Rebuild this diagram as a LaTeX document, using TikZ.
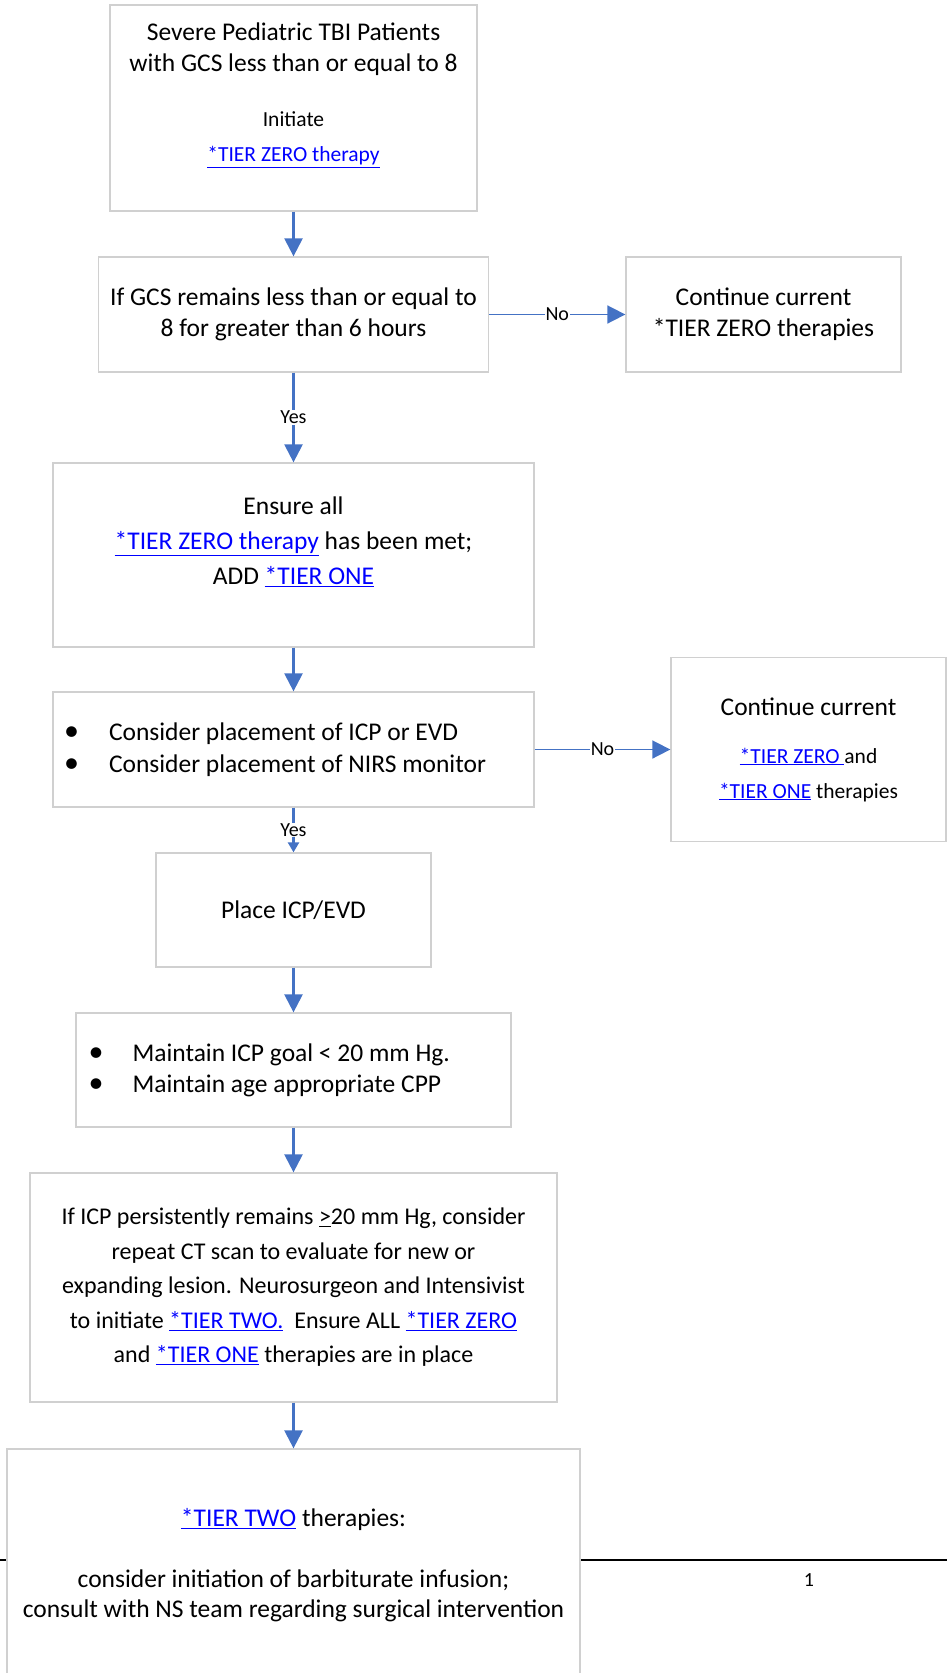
\documentclass[tikz,border=0pt]{standalone}
\usepackage{fontspec}
\setmainfont{Carlito}
\usepackage{xcolor}
\usetikzlibrary{arrows.meta, positioning}

\definecolor{arrowblue}{RGB}{68,114,196}
\definecolor{boxgray}{RGB}{208,208,208}
\definecolor{linkblue}{RGB}{0,0,255}
\newcommand{\tierlink}[1]{\textcolor{linkblue}{\underline{#1}}}
\newcommand{\smalltext}{\fontsize{21.5}{26}\selectfont}
\newcommand{\bulletmark}[1]{\makebox[#1][l]{{\fontsize{30}{31}\selectfont\textbullet}}}

\begin{document}
\begin{tikzpicture}[x=1pt, y=-1pt,
		box/.style={draw=boxgray, line width=1.3pt, fill=white, inner sep=0pt,
			align=center, font=\fontsize{25.5}{31}\selectfont},
		flow/.style={draw=arrowblue, line width=2.4pt,
			-{Triangle[width=18pt,length=18pt]}},
		flowside/.style={flow, line width=1.7pt},
		answer/.style={fill=white, inner sep=1pt, font=\fontsize{20}{24}\selectfont}]
	\useasboundingbox (0,0) rectangle (947,1673);
	\clip (0,0) rectangle (947,1673);

	% page rule and number
	\draw[line width=2pt] (0,1560) -- (947,1560);
	\node[font=\fontsize{20}{24}\selectfont] (pagenum) at (809,1580) {1};

	\node[box, minimum width=367pt, minimum height=206pt] (patients) at (293.5,108)
		{Severe Pediatric TBI Patients\\with GCS less than or equal to 8\\[24pt]
		{\smalltext Initiate}\\[4pt]
		{\smalltext\tierlink{*TIER ZERO therapy}}\\[0pt]\mbox{}};
	\node[box, minimum width=390pt, minimum height=115pt] (gcscheck) at (293.5,314.5)
		{If GCS remains less than or equal to\\8 for greater than 6 hours};
	\node[box, minimum width=275pt, minimum height=115pt] (contzero) at (763.5,314.5)
		{Continue current\\ {*}TIER ZERO therapies};
	\node[box, minimum width=481pt, minimum height=184pt] (ensure) at (293.5,555)
		{Ensure all\\[4pt]
		\tierlink{*TIER ZERO therapy} has been met;\\[4pt]
		ADD \tierlink{*TIER ONE}\\[-2pt]\mbox{}};
	\node[box, align=flush left, inner xsep=11pt, text width=459pt,
		minimum height=115pt] (consider) at (293.5,749.5)
		{\bulletmark{45pt}Consider placement of ICP or EVD\\[1pt]
		\bulletmark{45pt}Consider placement of NIRS monitor};
	\node[box, minimum width=275pt, minimum height=184pt] (contone) at (808.5,749.5)
		{Continue current\\[17pt]
		{\smalltext\tierlink{*TIER ZERO\ }and}\\[4pt]
		{\smalltext\tierlink{*TIER ONE} therapies}};
	\node[box, minimum width=275pt, minimum height=114pt] (place) at (293.5,910)
		{Place ICP/EVD};
	\node[box, align=flush left, inner xsep=12.4pt, text width=410pt,
		minimum height=114pt] (maintain) at (293.5,1070)
		{\bulletmark{44pt}Maintain ICP goal < 20 mm Hg.\\
		\bulletmark{44pt}Maintain age appropriate CPP};
	\node[box, minimum width=527pt, minimum height=229pt,
		font=\fontsize{24}{31}\selectfont] (persist) at (293.5,1287.5)
		{If ICP persistently remains \underline{>}20 mm Hg, consider\\[3.5pt]
		repeat CT scan to evaluate for new or\\[3.5pt]
		expanding lesion. Neurosurgeon and Intensivist\\[3.5pt]
		to initiate \tierlink{*TIER TWO.}\ \ Ensure ALL \tierlink{*TIER ZERO}\\[3.5pt]
		and \tierlink{*TIER ONE} therapies are in place};
	\node[box, minimum width=573pt, minimum height=232pt] (tiertwo) at (293.5,1565)
		{\tierlink{*TIER TWO} therapies:\\[30pt]
		consider initiation of barbiturate infusion;\\[-1pt]
		consult with NS team regarding surgical intervention};

	\draw[flow] (patients) -- (gcscheck);
	\draw[flowside] (gcscheck) -- node[answer] {No} (contzero);
	\draw[flow] (gcscheck) -- node[answer] {Yes} (ensure);
	\draw[flow] (ensure) -- (consider);
	\draw[flowside] (consider) -- node[answer] {No} (contone);
	\draw[flow, -{Triangle[width=11pt,length=10pt]}] (consider) -- node[answer] {Yes} (place);
	\draw[flow] (place) -- (maintain);
	\draw[flow] (maintain) -- (persist);
	\draw[flow] (persist) -- (tiertwo);
\end{tikzpicture}
\end{document}
